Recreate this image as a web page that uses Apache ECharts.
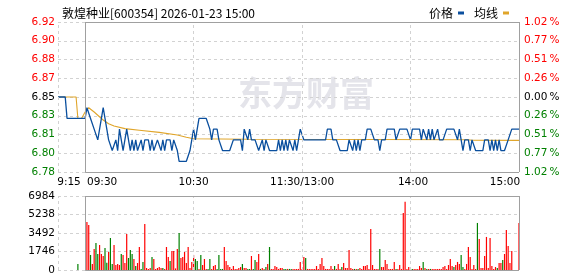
<!DOCTYPE html>
<html><head><meta charset="utf-8">
<script src="https://cdn.jsdelivr.net/npm/echarts@6/dist/echarts.min.js"></script>
<style>html,body{margin:0;padding:0;background:#fff}#c{width:578px;height:276px}</style>
</head><body><div id="c"></div>
<script>
// ---------------- data ----------------
const titleText = '敦煌种业[600354] 2026-01-23 15:00';
const seriesNames = ['价格', '均线'];
// slot index: 0 = 9:15 ... 15 = 9:30, 255 = 15:00
const timeLabels = {0: '9:15', 15: '09:30', 75: '10:30', 135: '11:30/13:00', 195: '14:00', 255: '15:00'};
const priceTicks = ['6.78', '6.80', '6.81', '6.83', '6.85', '6.87', '6.88', '6.90', '6.92'];
const pctTicks = ['1.02%', '0.77%', '0.51%', '0.26%', '0.00%', '0.26%', '0.51%', '0.77%', '1.02%'];
const volTicks = [0, 1746, 3492, 5238, 6984];
const priceMin = 6.78, priceMax = 6.92;

// call auction 9:15-9:29
const auctionPrice = [6.85, 6.85, 6.85, 6.85, 6.85, 6.83, 6.83, 6.83, 6.83, 6.83, 6.83, 6.83, 6.83, 6.83, 6.83];
const auctionAvg   = [6.85, 6.85, 6.85, 6.85, 6.85, 6.85, 6.85, 6.85, 6.85, 6.85, 6.85, 6.83, 6.83, 6.83, 6.83];
const auctionVol   = [0, 0, 0, 0, 0, 0, 0, 0, 0, 0, 0, 566, 0, 0, 0];
const auctionDir   = 'rrrrrrrrrrrgrrr';

// trading minutes 9:30 (0) ... 15:00 (240)
const price = [
  6.83,6.84,6.84,6.83,6.83,6.82,6.82,6.81,6.82,6.83,
  6.84,6.83,6.82,6.81,6.81,6.80,6.80,6.81,6.80,6.82,
  6.82,6.80,6.80,6.82,6.82,6.80,6.81,6.80,6.81,6.80,
  6.80,6.81,6.80,6.81,6.81,6.81,6.80,6.81,6.80,6.80,
  6.81,6.81,6.80,6.81,6.80,6.81,6.81,6.81,6.80,6.81,
  6.81,6.80,6.79,6.79,6.79,6.79,6.79,6.79,6.80,6.81,
  6.82,6.81,6.82,6.83,6.83,6.83,6.83,6.83,6.83,6.82,
  6.81,6.82,6.82,6.82,6.81,6.81,6.80,6.80,6.80,6.80,
  6.80,6.80,6.81,6.81,6.81,6.81,6.81,6.80,6.82,6.82,
  6.81,6.82,6.81,6.81,6.81,6.81,6.80,6.80,6.81,6.80,
  6.81,6.81,6.80,6.80,6.80,6.80,6.80,6.81,6.80,6.81,
  6.80,6.81,6.80,6.81,6.81,6.80,6.81,6.80,6.81,6.82,
  6.82,6.81,6.81,6.81,6.81,6.81,6.81,6.81,6.81,6.81,
  6.81,6.81,6.81,6.81,6.82,6.82,6.82,6.81,6.81,6.81,
  6.81,6.80,6.80,6.80,6.80,6.80,6.81,6.81,6.80,6.81,
  6.80,6.81,6.80,6.81,6.81,6.81,6.82,6.82,6.82,6.82,
  6.81,6.81,6.81,6.80,6.81,6.81,6.81,6.82,6.82,6.82,
  6.82,6.82,6.81,6.81,6.82,6.82,6.82,6.82,6.82,6.82,
  6.81,6.82,6.82,6.82,6.82,6.82,6.81,6.82,6.82,6.81,
  6.82,6.81,6.82,6.81,6.81,6.82,6.81,6.81,6.81,6.81,
  6.82,6.82,6.82,6.82,6.82,6.82,6.81,6.82,6.81,6.80,
  6.81,6.81,6.81,6.80,6.81,6.81,6.80,6.80,6.80,6.80,
  6.80,6.81,6.81,6.81,6.80,6.81,6.80,6.81,6.80,6.81,
  6.80,6.80,6.80,6.80,6.81,6.81,6.82,6.82,6.82,6.82,
  6.82
];
// average price line, [minute, value]
const avgPoints = [
  [0,6.836],[2,6.840],[5,6.836],[7,6.833],[10,6.8285],[13,6.825],[16,6.823],[22,6.8205],
  [30,6.819],[41,6.817],[51,6.8145],[56,6.8125],[60,6.811],[90,6.8105],[160,6.8103],
  [212,6.8101],[214,6.8096],[240,6.8095]
];
const volume = [
  0,4540,4250,1420,570,1980,2550,1510,2360,1510,
  1320,2080,690,1700,3020,570,2360,470,570,470,
  1510,1420,660,3400,1130,1890,1510,1040,380,660,
  2170,100,760,4350,190,100,190,1230,1040,100,
  190,280,190,190,100,2170,1230,850,1800,1800,
  150,1980,3500,1130,1230,1700,660,2170,190,760,
  1420,1040,850,100,1420,470,1040,100,100,1040,
  100,380,470,100,1420,100,100,2170,850,470,
  280,100,380,100,100,190,280,570,190,190,
  100,100,1320,100,950,760,1510,100,190,100,
  280,570,2170,100,100,380,280,100,190,190,
  100,100,100,100,100,100,100,100,100,760,
  100,1230,1130,100,100,100,100,100,380,100,
  570,1130,380,100,100,100,380,100,380,100,
  570,100,280,660,190,190,1890,190,100,100,
  100,100,190,100,380,380,470,100,3880,470,
  100,100,100,1980,280,280,950,570,100,100,
  100,760,100,100,470,100,5390,6430,100,280,
  100,100,100,100,100,380,190,760,190,100,
  100,100,100,100,100,100,100,100,280,380,
  100,470,1040,380,280,470,760,570,1420,280,
  100,570,2170,1230,100,470,100,4440,2930,190,
  190,1320,3120,190,3020,380,100,280,190,660,
  660,950,1510,3780,2270,660,1800,0,0,0,
  4440
];
const volDir =
  'rrrgrrggrr' + 'rggrggrrrr' + 'grrrgggrgr' + 'rggrrrrgrr' + 'rrrgrrrgrr' +
  'rrgrrrrrrr' + 'rggrgrrrgg' + 'rrrggggrrr' + 'rrrrrrrgrr' + 'ggrggrrgrr' +
  'grgrrrrrrr' + 'ggrggrrrrr' + 'rrgrrrrrrr' + 'rrrrrrrrgr' + 'rrgrrrrrrg' +
  'rgrrrrrrrr' + 'rrrgrrrrrr' + 'rrgrrrrrrr' + 'rgrrrrrgrg' + 'rgrrrrrrrr' +
  'rrrrgrrrgg' + 'rrrrrrrgrr' + 'rrrrrrrrgr' + 'rgrrrrrrrr' + 'r';

// ---------------- chart ----------------
const OPEN = 15;             // slot of 09:30
const LAST = 255;            // slot of 15:00
const slots = Object.keys(timeLabels).map(Number);
const FONT = 'DejaVu Sans';
const FS = 10.5;
const RED = '#ff0000', GREEN = '#008000';
const BOX = '#a0a0a0', DASH = '#d2d2d2';

const priceData = auctionPrice.map((p, i) => [i, p]).concat(price.map((p, m) => [OPEN + m, p]));
const avgData = auctionAvg.map((p, i) => [i, p]).concat(avgPoints.map(d => [OPEN + d[0], d[1]]));
const volData = [];
auctionVol.forEach((v, i) => { if (v > 0) volData.push({value: [i, v], dir: auctionDir[i]}); });
volume.forEach((v, m) => { if (v > 0) volData.push({value: [OPEN + m, v], dir: volDir[m]}); });

function gridLines(yMin, yMax) {
  const out = [];
  slots.filter(s => s !== OPEN && s !== LAST).forEach(s => {
    out.push([{coord: [s, yMin], lineStyle: {type: [3, 3], color: DASH}}, {coord: [s, yMax]}]);
  });
  [OPEN, LAST].forEach(s => out.push([{coord: [s, yMin], lineStyle: {type: 'solid', color: BOX}}, {coord: [s, yMax]}]));
  [yMin, yMax].forEach(y => out.push([{coord: [OPEN, y], lineStyle: {type: 'solid', color: BOX}}, {coord: [LAST, y]}]));
  return out;
}

const lbl = () => ({
  u: {color: RED, fontFamily: FONT, fontSize: FS},
  e: {color: '#000', fontFamily: FONT, fontSize: FS},
  d: {color: GREEN, fontFamily: FONT, fontSize: FS}
});
const cls = v => v > 4 ? 'u' : (v === 4 ? 'e' : 'd');

const chart = echarts.init(document.getElementById('c'), null, {renderer: 'canvas'});
chart.setOption({
  animation: false,
  backgroundColor: '#fff',
  title: {
    text: titleText, left: 57, top: 2,
    textStyle: {fontSize: 12, fontWeight: 'normal', color: '#000', fontFamily: 'Noto Sans CJK SC'}
  },
  legend: {
    data: seriesNames, right: 64, top: 2, align: 'right', icon: 'rect',
    itemWidth: 6, itemHeight: 3, itemGap: 10,
    textStyle: {fontSize: 12, color: '#000', fontFamily: 'Noto Sans CJK SC'}
  },
  graphic: [{
    type: 'text', left: 238, top: 76, z: 0, silent: true,
    style: {text: '东方财富', font: 'bold 34px "Noto Sans CJK SC"', fill: '#e4e4ea'}
  }],
  grid: [
    {left: 58, top: 22, width: 461, height: 150},
    {left: 58, top: 196, width: 461, height: 74}
  ],
  xAxis: [
    {
      type: 'value', gridIndex: 0, min: 0, max: LAST, interval: 15,
      axisLine: {show: false}, axisTick: {show: false}, splitLine: {show: false},
      axisLabel: {
        show: true, margin: 5, showMinLabel: true, showMaxLabel: true,
        fontFamily: FONT, fontSize: FS, color: '#000',
        formatter: v => {
          const t = timeLabels[v];
          if (!t) return '';
          if (v === 0) return '{l|' + t + '}';
          if (v === OPEN) return '{m|' + t + '}';
          if (v === LAST) return '{r|' + t + '}';
          if (v === 195) return '{s|' + t + '}';
          return '{c|' + t + '}';
        },
        rich: {
          l: {padding: [0, 0, 0, 22], fontFamily: FONT, fontSize: FS, color: '#000'},
          m: {padding: [0, 0, 0, 34], fontFamily: FONT, fontSize: FS, color: '#000'},
          r: {padding: [0, 28, 0, 0], fontFamily: FONT, fontSize: FS, color: '#000'},
          s: {padding: [0, 0, 0, 5], fontFamily: FONT, fontSize: FS, color: '#000'},
          c: {fontFamily: FONT, fontSize: FS, color: '#000'}
        }
      }
    },
    {
      type: 'value', gridIndex: 1, min: 0, max: LAST, interval: 15,
      axisLine: {show: false}, axisTick: {show: false}, splitLine: {show: false}, axisLabel: {show: false}
    }
  ],
  yAxis: [
    {type: 'value', gridIndex: 0, min: priceMin, max: priceMax, show: false, splitLine: {show: false}},
    {
      type: 'value', gridIndex: 0, min: 0, max: priceTicks.length - 1, interval: 1, position: 'left',
      axisLine: {show: false}, axisTick: {show: false},
      splitLine: {show: true, lineStyle: {type: [3, 3], color: DASH}},
      axisLabel: {margin: 3, formatter: v => '{' + cls(v) + '|' + priceTicks[v] + '}', rich: lbl()}
    },
    {
      type: 'value', gridIndex: 0, min: 0, max: pctTicks.length - 1, interval: 1, position: 'right',
      axisLine: {show: false}, axisTick: {show: false}, splitLine: {show: false},
      axisLabel: {margin: 5, formatter: v => '{' + cls(v) + '|' + pctTicks[v].replace('%', '\u2009%') + '}', rich: lbl()}
    },
    {
      type: 'value', gridIndex: 1, min: volTicks[0], max: volTicks[volTicks.length - 1],
      interval: volTicks[1] - volTicks[0], position: 'left',
      axisLine: {show: false}, axisTick: {show: false},
      splitLine: {show: true, lineStyle: {type: [3, 3], color: DASH}},
      axisLabel: {margin: 3, fontFamily: FONT, fontSize: FS, color: '#000', formatter: v => String(v)}
    }
  ],
  series: [
    {
      name: seriesNames[0], type: 'line', xAxisIndex: 0, yAxisIndex: 0, z: 4,
      data: priceData, symbol: 'none', silent: true,
      lineStyle: {color: '#0a4f9e', width: 1.3}, itemStyle: {color: '#0a4f9e'}
    },
    {
      name: seriesNames[1], type: 'line', xAxisIndex: 0, yAxisIndex: 0, z: 3,
      data: avgData, symbol: 'none', silent: true,
      lineStyle: {color: '#e0a52a', width: 1.1}, itemStyle: {color: '#e0a52a'},
      markLine: {silent: true, symbol: ['none', 'none'], label: {show: false}, animation: false,
        lineStyle: {width: 1}, data: gridLines(priceMin, priceMax)}
    },
    {
      type: 'bar', xAxisIndex: 1, yAxisIndex: 3, z: 3, barWidth: 1.2, silent: true,
      data: volData,
      itemStyle: {color: p => p.data.dir === 'g' ? GREEN : RED},
      markLine: {silent: true, symbol: ['none', 'none'], label: {show: false}, animation: false,
        lineStyle: {width: 1}, data: gridLines(volTicks[0], volTicks[volTicks.length - 1])}
    }
  ]
});
</script></body></html>
